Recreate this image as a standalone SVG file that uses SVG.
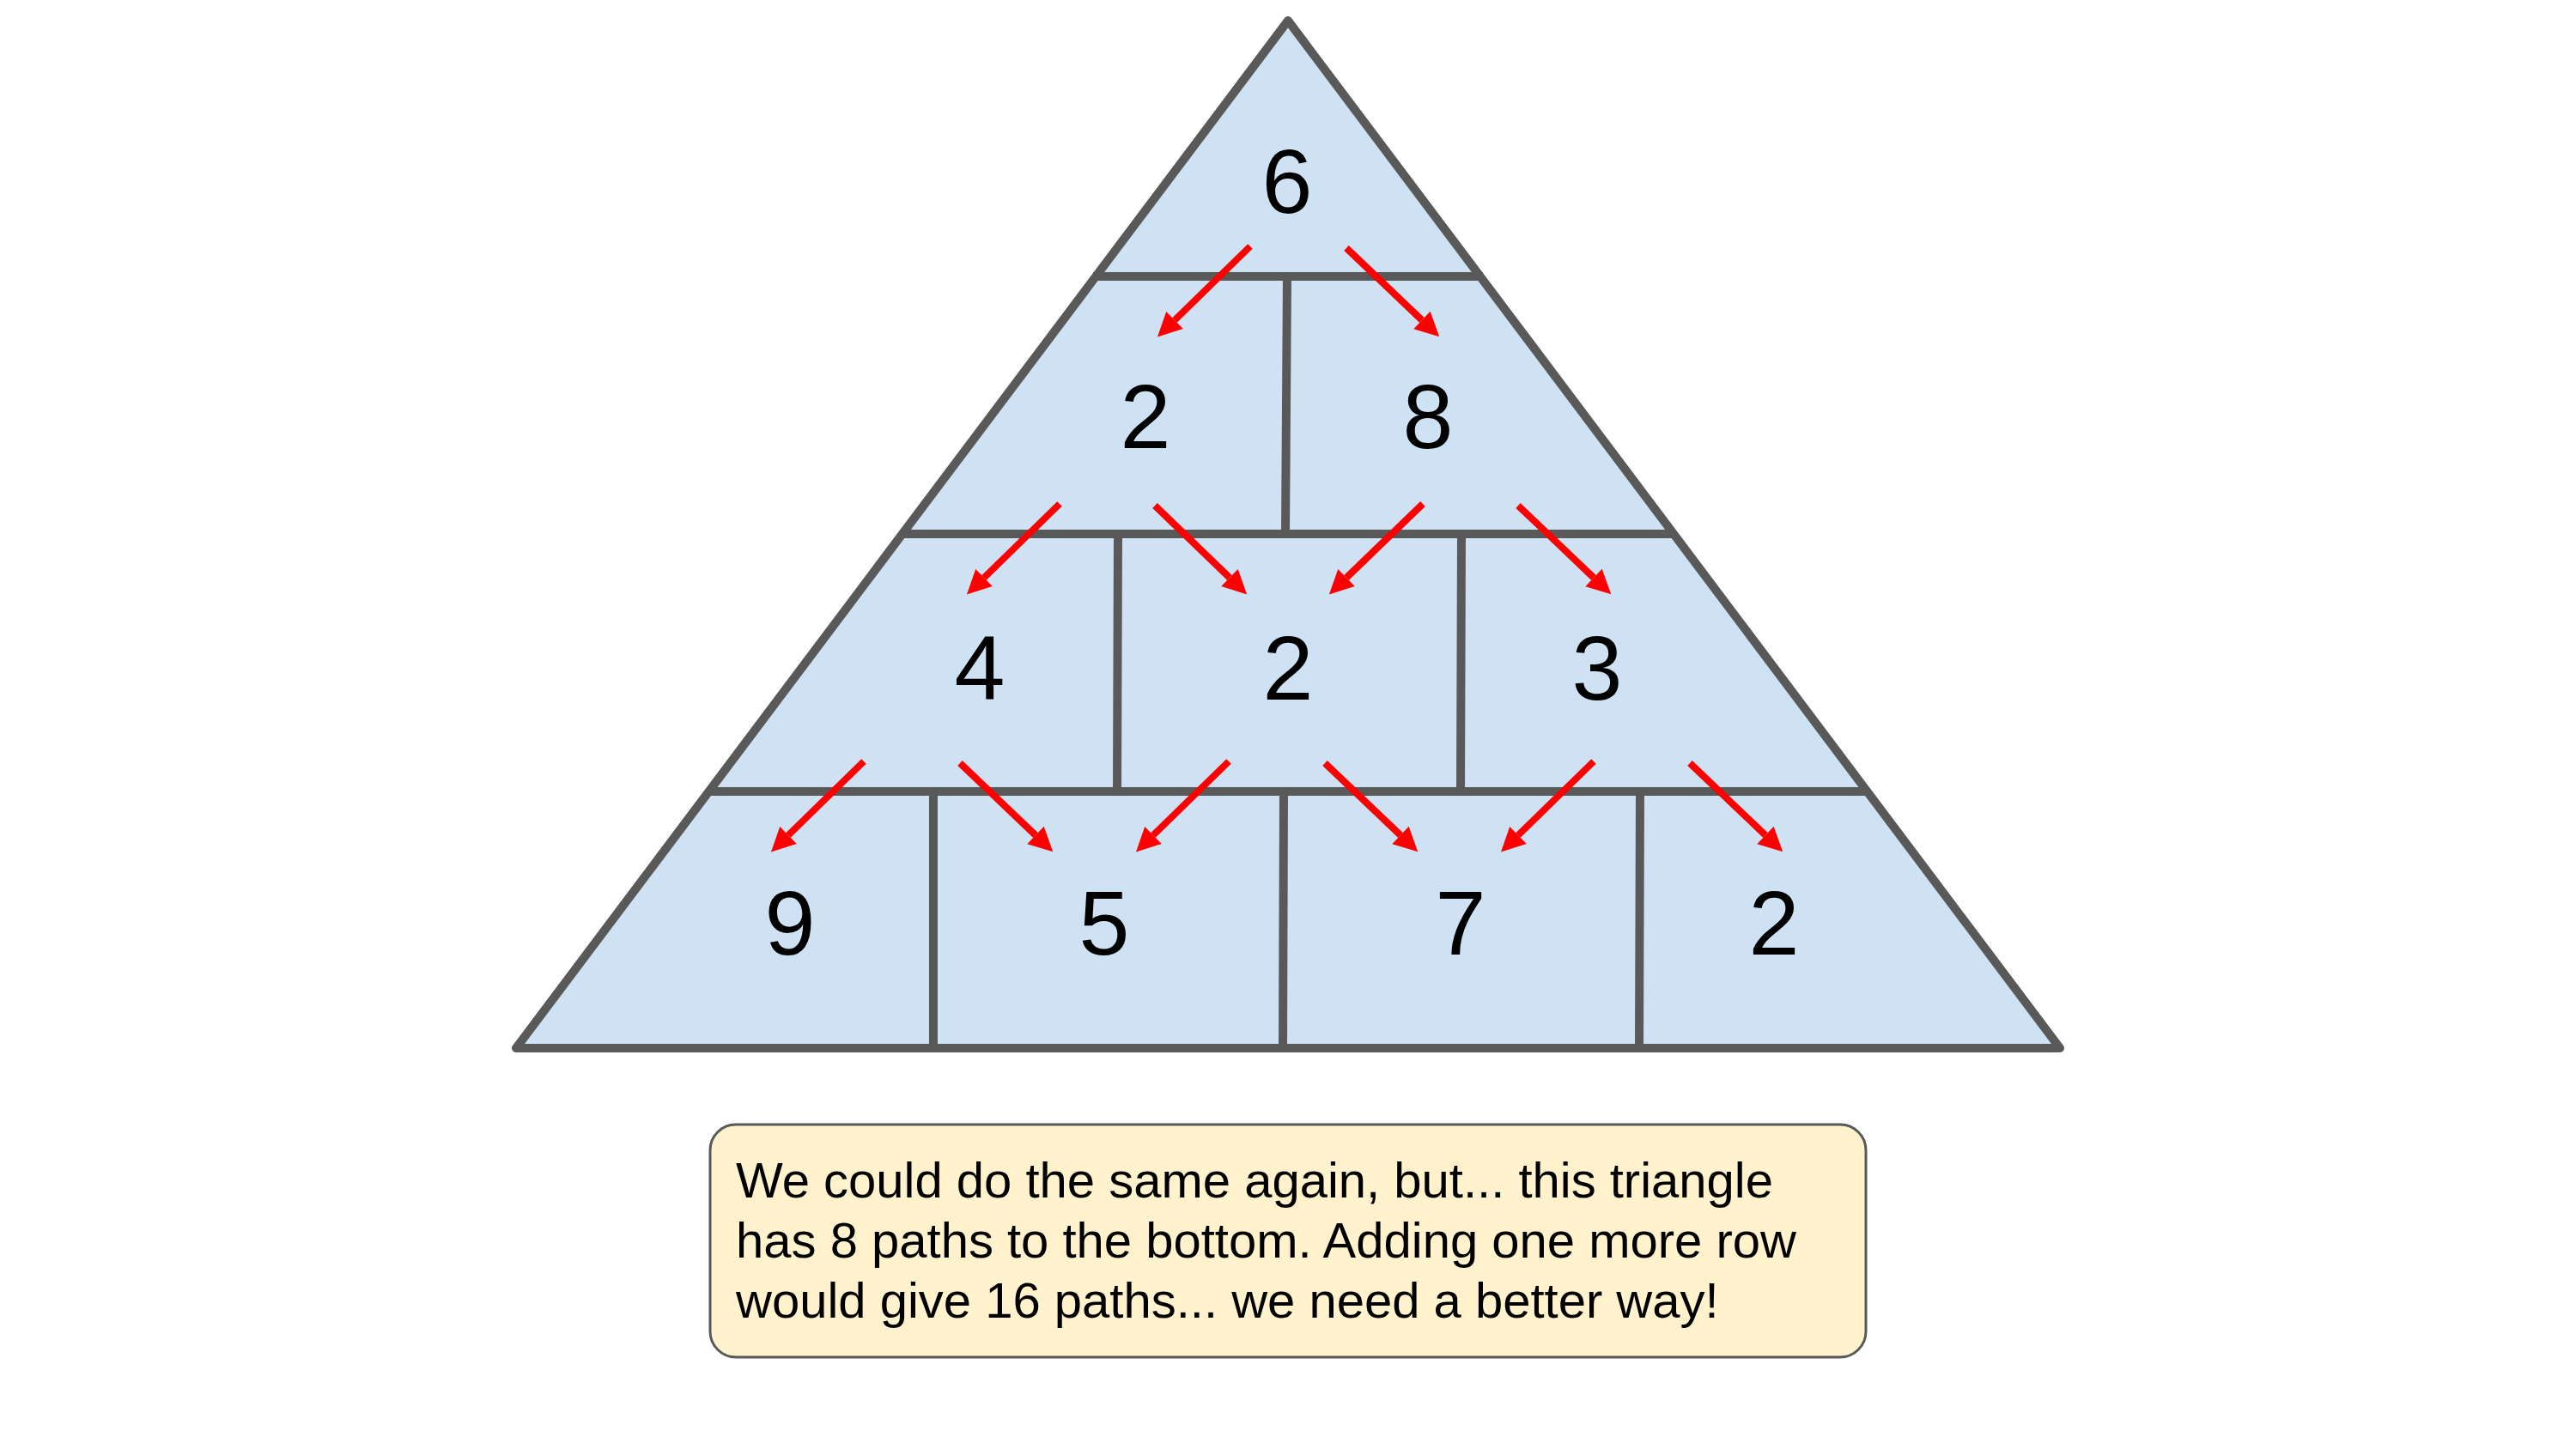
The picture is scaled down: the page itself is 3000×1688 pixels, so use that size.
<svg xmlns="http://www.w3.org/2000/svg" width="3000" height="1688" viewBox="0 0 3000 1688">
<style>
.edge{stroke:#595959;stroke-width:10;stroke-linecap:butt;fill:none}
.num{font-family:"Liberation Sans",Arial,sans-serif;font-size:106px;fill:#000;text-anchor:middle}
.arr{stroke:#ff0000;stroke-width:8;fill:none;marker-end:url(#ah)}
.note{font-family:"Liberation Sans",Arial,sans-serif;font-size:58px;fill:#000}
</style>
<defs>
<marker id="ah" markerUnits="userSpaceOnUse" markerWidth="28" markerHeight="28" viewBox="0 -14 28 28" refX="0" refY="0" orient="auto" overflow="visible">
<path d="M0,-14 L28,0 L0,14 z" fill="#ff0000"/>
</marker>
</defs>
<rect width="3000" height="1688" fill="#ffffff"/>
<g id="triangle">
<polygon points="1500,24 601,1221 2399,1221" fill="#cfe2f3" stroke="#595959" stroke-width="10" stroke-linejoin="round"/>
<line class="edge" x1="1273" y1="322" x2="1727" y2="322"/>
<line class="edge" x1="1049" y1="622" x2="1951" y2="622"/>
<line class="edge" x1="824" y1="922" x2="2176" y2="922"/>
<line class="edge" x1="1499" y1="322" x2="1497" y2="622"/>
<line class="edge" x1="1302" y1="622" x2="1301" y2="922"/>
<line class="edge" x1="1702" y1="622" x2="1701" y2="922"/>
<line class="edge" x1="1087" y1="922" x2="1087" y2="1221"/>
<line class="edge" x1="1495" y1="922" x2="1494" y2="1221"/>
<line class="edge" x1="1910" y1="922" x2="1909" y2="1221"/>
</g>
<g id="n-r1-6"><text class="num" x="1499" y="248">6</text></g>
<g id="n-r2-2"><text class="num" x="1334" y="522">2</text></g>
<g id="n-r2-8"><text class="num" x="1663" y="522">8</text></g>
<g id="n-r3-4"><text class="num" x="1141" y="815">4</text></g>
<g id="n-r3-2"><text class="num" x="1500" y="815">2</text></g>
<g id="n-r3-3"><text class="num" x="1860" y="815">3</text></g>
<g id="n-r4-9"><text class="num" x="920" y="1112">9</text></g>
<g id="n-r4-5"><text class="num" x="1286" y="1112">5</text></g>
<g id="n-r4-7"><text class="num" x="1701" y="1112">7</text></g>
<g id="n-r4-2"><text class="num" x="2066" y="1112">2</text></g>
<g id="connectors">
<line class="arr" x1="1456" y1="287" x2="1368" y2="373"/>
<line class="arr" x1="1568" y1="289" x2="1656" y2="373"/>
<line class="arr" x1="1234" y1="587" x2="1146" y2="673"/>
<line class="arr" x1="1345" y1="589" x2="1432" y2="673"/>
<line class="arr" x1="1657" y1="587" x2="1568" y2="673"/>
<line class="arr" x1="1768" y1="589" x2="1856" y2="673"/>
<line class="arr" x1="1006" y1="887" x2="918" y2="973"/>
<line class="arr" x1="1118" y1="889" x2="1206" y2="973"/>
<line class="arr" x1="1431" y1="887" x2="1343" y2="973"/>
<line class="arr" x1="1543" y1="889" x2="1631" y2="973"/>
<line class="arr" x1="1856" y1="887" x2="1768" y2="973"/>
<line class="arr" x1="1968" y1="889" x2="2056" y2="973"/>
</g>
<g id="note">
<rect x="827" y="1310" width="1346" height="271" rx="30" ry="30" fill="#fff2cc" stroke="#595959" stroke-width="3"/>
<text class="note" x="857" y="1395">We could do the same again, but... this triangle</text>
<text class="note" x="857" y="1465">has 8 paths to the bottom. Adding one more row</text>
<text class="note" x="857" y="1535">would give 16 paths... we need a better way!</text>
</g>
</svg>
